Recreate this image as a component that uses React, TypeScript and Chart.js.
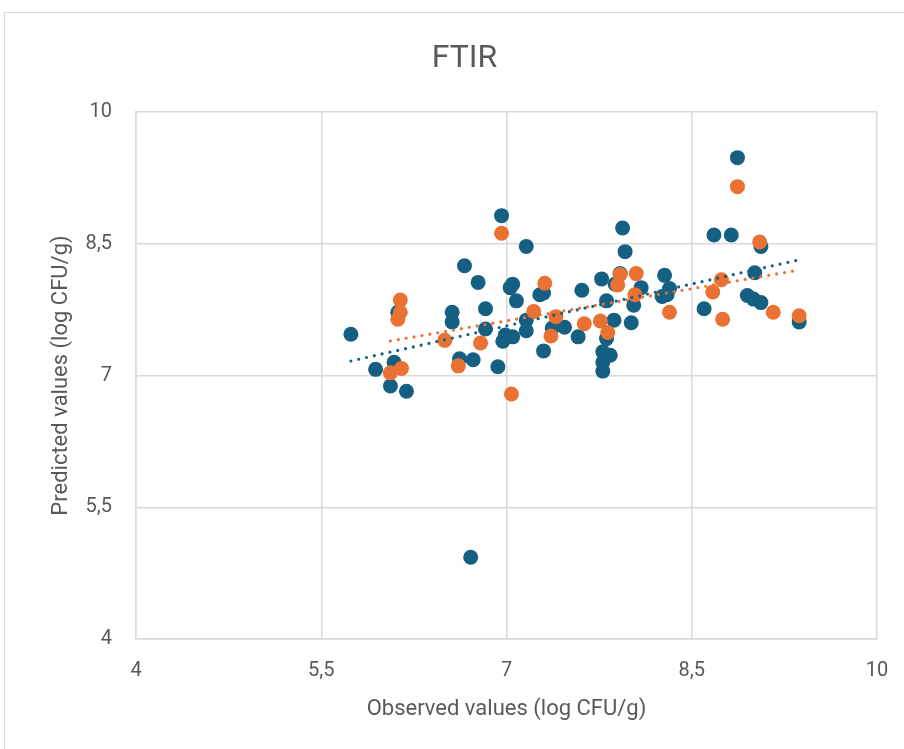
import React, { useEffect, useRef } from "react";
import { Chart, registerables } from "chart.js";

Chart.register(...registerables);

const titleText = "FTIR";
const xAxisTitle = "Observed values (log CFU/g)";
const yAxisTitle = "Predicted values (log CFU/g)";
const tickValues = [4, 5.5, 7, 8.5, 10];
const tickLabels = ["4", "5,5", "7", "8,5", "10"];

const blueX = [
  5.74, 5.94, 6.09, 6.06, 6.19, 6.12, 6.66, 6.77, 6.56, 6.56, 6.62, 6.73, 6.83, 6.83, 6.96, 6.93,
  7.16, 7.03, 7.05, 7.08, 6.99, 6.97, 7.05, 7.27, 7.3, 7.16, 7.16, 7.3, 7.37, 7.47, 7.58, 7.61,
  7.77, 7.81, 7.87, 7.81, 7.78, 7.84, 7.78, 7.78, 7.92, 7.88, 7.94, 7.96, 8.09, 8.03, 8.01, 8.28,
  8.32, 8.26, 8.3, 8.6, 8.68, 8.82, 8.87, 9.06, 9.01, 8.95, 9.0, 9.06, 9.37, 6.71,
];
const blueY = [
  7.47, 7.07, 7.15, 6.88, 6.82, 7.72, 8.25, 8.06, 7.72, 7.61, 7.19, 7.18, 7.76, 7.53, 8.82, 7.1,
  8.47, 8.0, 8.04, 7.85, 7.46, 7.39, 7.44, 7.92, 7.94, 7.63, 7.51, 7.28, 7.54, 7.55, 7.44, 7.97,
  8.1, 7.85, 7.63, 7.42, 7.27, 7.23, 7.15, 7.05, 8.16, 8.04, 8.68, 8.41, 8.0, 7.8, 7.6, 8.14,
  7.99, 7.9, 7.92, 7.76, 8.6, 8.6, 9.48, 8.47, 8.17, 7.91, 7.87, 7.83, 7.61, 4.93,
];

const orangeX = [
  6.14, 6.14, 6.12, 6.06, 6.15, 6.5, 6.61, 6.79, 6.96, 7.04, 7.31, 7.22, 7.4, 7.36, 7.63, 7.76,
  7.82, 7.92, 7.9, 8.05, 8.04, 8.32, 8.67, 8.74, 8.75, 8.87, 9.05, 9.16, 9.37,
];
const orangeY = [
  7.86, 7.72, 7.64, 7.03, 7.08, 7.4, 7.11, 7.37, 8.62, 6.79, 8.05, 7.73, 7.67, 7.45, 7.59, 7.62,
  7.49, 8.15, 8.03, 8.16, 7.92, 7.72, 7.95, 8.09, 7.64, 9.15, 8.52, 7.72, 7.68,
];

const blueTrendX = [5.74, 9.37];
const blueTrendY = [7.165, 8.318];
const orangeTrendX = [6.06, 9.37];
const orangeTrendY = [7.393, 8.201];

const BLUE = "#156082";
const ORANGE = "#E97132";
const TEXT = "#595959";
const GRID = "#d9d9d9";
const FONT = "Roboto";

const toPts = (xs: number[], ys: number[]) => xs.map((x, i) => ({ x, y: ys[i] }));

const tickCb = (v: any) => {
  const i = tickValues.indexOf(Number(v));
  return i >= 0 ? tickLabels[i] : "";
};

export default function App() {
  const ref = useRef<HTMLCanvasElement | null>(null);
  useEffect(() => {
    if (!ref.current) return;
    const chart = new Chart(ref.current, {
      type: "scatter",
      data: {
        datasets: [
          {
            label: "Blue trend",
            data: toPts(blueTrendX, blueTrendY),
            showLine: true,
            borderColor: BLUE,
            borderWidth: 3.2,
            borderDash: [0, 8],
            borderCapStyle: "round",
            pointRadius: 0,
            order: 0,
          } as any,
          {
            label: "Orange trend",
            data: toPts(orangeTrendX, orangeTrendY),
            showLine: true,
            borderColor: ORANGE,
            borderWidth: 3.2,
            borderDash: [0, 8],
            borderCapStyle: "round",
            pointRadius: 0,
            order: 0,
          } as any,
          {
            label: "Orange",
            data: toPts(orangeX, orangeY),
            backgroundColor: ORANGE,
            borderWidth: 0,
            pointRadius: 7.5,
            order: 1,
          },
          {
            label: "Blue",
            data: toPts(blueX, blueY),
            backgroundColor: BLUE,
            borderWidth: 0,
            pointRadius: 7.5,
            order: 2,
          },
        ],
      },
      options: {
        animation: false,
        responsive: false,
        maintainAspectRatio: false,
        layout: { padding: { left: 52, right: 27, top: 0, bottom: 0 } },
        plugins: {
          legend: { display: false },
          tooltip: { enabled: false },
          title: {
            display: true,
            text: titleText,
            color: TEXT,
            font: { family: FONT, size: 32, weight: "normal" },
            padding: { top: 40, bottom: 33.6 },
          },
        },
        scales: {
          x: {
            type: "linear",
            min: 4,
            max: 10,
            afterBuildTicks: (s: any) => {
              s.ticks = tickValues.map((value) => ({ value }));
            },
            afterFit: (s: any) => {
              s.height = 110;
              s.paddingLeft = 0;
              s.paddingRight = 0;
            },
            ticks: {
              callback: tickCb,
              color: TEXT,
              font: { family: FONT, size: 20 },
              padding: 20,
              maxRotation: 0,
            },
            grid: { color: GRID, lineWidth: 1.5, drawTicks: false },
            border: { color: GRID, width: 1.5 },
            title: {
              display: true,
              text: xAxisTitle,
              color: TEXT,
              font: { family: FONT, size: 22 },
              padding: { top: 0, bottom: 26 },
            },
          },
          y: {
            type: "linear",
            min: 4,
            max: 10,
            afterBuildTicks: (s: any) => {
              s.ticks = tickValues.map((value) => ({ value }));
            },
            afterFit: (s: any) => {
              s.width = 84;
              s.paddingTop = 0;
              s.paddingBottom = 0;
            },
            ticks: {
              callback: tickCb,
              color: TEXT,
              font: { family: FONT, size: 20 },
              padding: 24,
            },
            grid: { color: GRID, lineWidth: 1.5, drawTicks: false },
            border: { color: GRID, width: 1.5 },
            title: {
              display: true,
              text: yAxisTitle,
              color: TEXT,
              font: { family: FONT, size: 22 },
              padding: { top: -4, bottom: 0 },
            },
          },
        },
      },
    });
    return () => chart.destroy();
  }, []);

  return (
    <div
      style={{
        position: "fixed",
        left: 0,
        top: 0,
        width: 904,
        height: 749,
        overflow: "hidden",
        background: "#ffffff",
      }}
    >
      <div
        style={{
          position: "absolute",
          left: 4,
          top: 12,
          width: 1000,
          height: 1000,
          border: "1px solid #d9d9d9",
        }}
      />
      <canvas
        ref={ref}
        width={904}
        height={749}
        style={{ position: "absolute", left: 0, top: 0, width: 904, height: 749 }}
      />
    </div>
  );
}
